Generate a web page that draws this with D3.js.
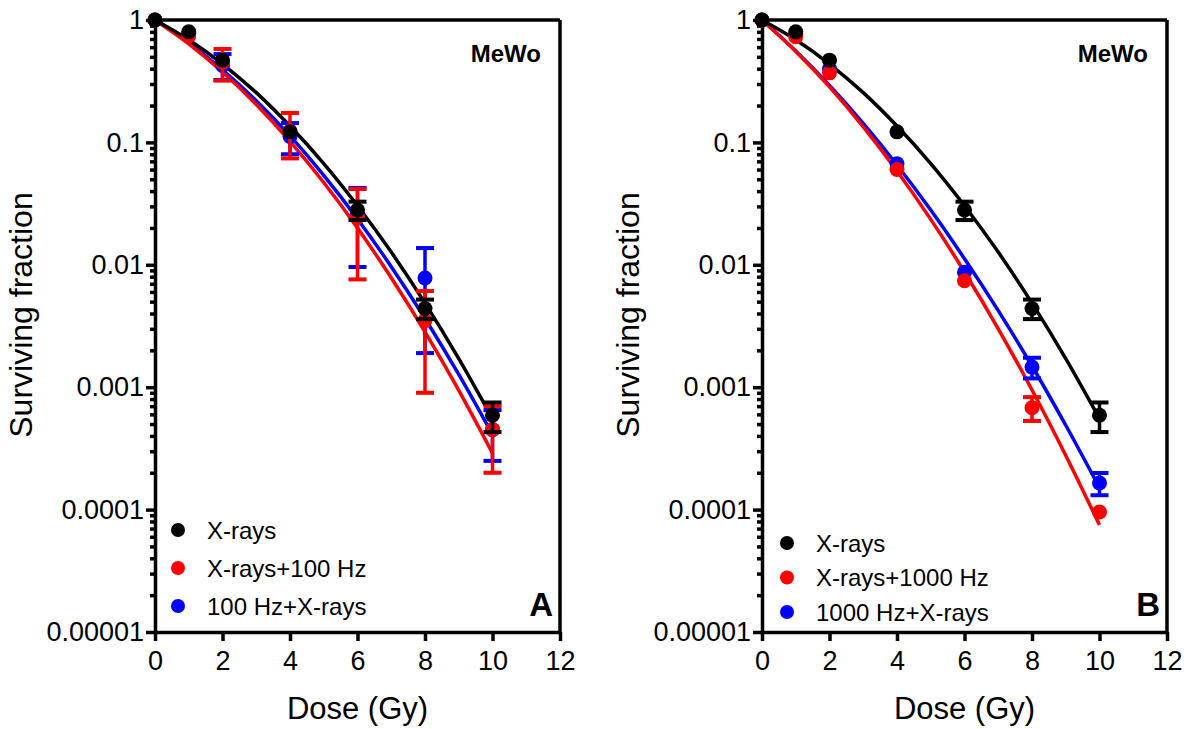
<!DOCTYPE html>
<html>
<head>
<meta charset="utf-8">
<script src="https://cdn.jsdelivr.net/npm/d3@7"></script>
<style>
  body { margin: 0; background: #fff; }
  svg { display: block; font-family: "Liberation Sans", Arial, sans-serif; }
  .axis path, .axis line { stroke: #000; stroke-width: 3.5; }
  .axis text { font-size: 27px; fill: #000; }
  .frame { stroke: #000; stroke-width: 3.5; }
  .fit { fill: none; stroke-width: 3.5; }
</style>
</head>
<body>
<div id="chart"></div>
<script>
// ---- data
const doses = [0, 1, 2, 4, 6, 8, 10];
const xraysSF = [1, 0.8, 0.47, 0.122, 0.028, 0.0044, 0.00059];
const xraysErr = [0, 0, 0, 0, 0.0048, 0.0008, 0.00016];

const xr100SF = [1, 0.74, 0.45, 0.124, 0.0246, 0.0035, 0.00045];
const xr100Err = [0, 0, 0.13, 0.05, 0.017, 0.0026, 0.00025];
const hz100SF = [1, 0.78, 0.425, 0.112, 0.026, 0.0078, 0.00045];
const hz100Err = [0, 0, 0.102, 0.032, 0.0164, 0.0059, 0.0002];

const xr1000SF = [1, 0.73, 0.37, 0.06, 0.0074, 0.00068, 0.0000955];
const xr1000Err = [0, 0, 0, 0, 0, 0.00015, 0];
const hz1000SF = [1, 0.77, 0.4, 0.067, 0.0087, 0.00146, 0.000165];
const hz1000Err = [0, 0, 0, 0, 0, 0.00028, 0.000034];

// fitted curves, read at each Gy
const curveDoses = [0, 1, 2, 3, 4, 5, 6, 7, 8, 9, 10];
const xraysFit = [1, 0.689, 0.437, 0.255, 0.136, 0.0672, 0.0304, 0.0127, 0.00486, 0.00171, 0.000553];
const xr100Fit = [1, 0.639, 0.376, 0.204, 0.102, 0.047, 0.02, 0.00783, 0.00283, 0.000941, 0.000289];
const hz100Fit = [1, 0.651, 0.392, 0.219, 0.113, 0.0537, 0.0237, 0.00965, 0.00364, 0.00127, 0.00041];
const xr1000Fit = [1, 0.554, 0.284, 0.134, 0.0584, 0.0235, 0.00874, 0.003, 0.000949, 0.000277, 0.0000749];
const hz1000Fit = [1, 0.558, 0.292, 0.143, 0.0654, 0.028, 0.0112, 0.00422, 0.00149, 0.000489, 0.000151];

const xTicks = [0, 2, 4, 6, 8, 10, 12];
const yTicks = [1, 0.1, 0.01, 0.001, 0.0001, 0.00001];
const yTickLabels = ["1", "0.1", "0.01", "0.001", "0.0001", "0.00001"];

const labelsA = ["X-rays", "X-rays+100 Hz", "100 Hz+X-rays"];
const labelsB = ["X-rays", "X-rays+1000 Hz", "1000 Hz+X-rays"];
const colors = ["#000000", "#ff0000", "#0000ff"];

// ---- size
const w = 1193;
const h = 729;
const pTop = 20;
const pBottom = 632;

const svg = d3.select("#chart").append("svg").attr("width", w).attr("height", h);

const yScale = d3.scaleLog().domain([0.00001, 1]).range([pBottom, pTop]);

// minor ticks 2..9 per decade
const minorTicks = [];
for (let e = -5; e < 0; e++) {
    for (let m = 2; m <= 9; m++) minorTicks.push(m * Math.pow(10, e));
}

function drawPanel(cfg) {
    const x = d3.scaleLinear().domain([0, 12]).range([cfg.left, cfg.right]);
    const g = svg.append("g");

    // frame (top + right)
    g.append("line").attr("class", "frame")
        .attr("x1", cfg.left).attr("x2", cfg.right)
        .attr("y1", pTop).attr("y2", pTop);
    g.append("line").attr("class", "frame")
        .attr("x1", cfg.right).attr("x2", cfg.right)
        .attr("y1", pTop).attr("y2", pBottom);

    // x axis
    g.append("g").attr("class", "axis")
        .attr("transform", `translate(0,${pBottom})`)
        .call(d3.axisBottom(x).tickValues(xTicks).tickSize(9).tickSizeOuter(0).tickPadding(10));

    // y axis minor
    g.append("g").attr("class", "axis")
        .attr("transform", `translate(${cfg.left},0)`)
        .call(d3.axisLeft(yScale).tickValues(minorTicks).tickSize(5).tickSizeOuter(0).tickFormat(""))
        .select(".domain").remove();
    // y axis major
    g.append("g").attr("class", "axis")
        .attr("transform", `translate(${cfg.left},0)`)
        .call(d3.axisLeft(yScale).tickValues(yTicks).tickSize(9).tickSizeOuter(0).tickPadding(2)
            .tickFormat((d, i) => yTickLabels[i]));

    // curves
    const line = d3.line()
        .x((d) => x(d[0]))
        .y((d) => yScale(d[1]))
        .curve(d3.curveMonotoneX);

    // draw blue first, then red, black on top
    const order = [2, 1, 0];
    order.forEach((k) => {
        const fit = cfg.fits[k];
        g.append("path").attr("class", "fit")
            .attr("d", line(curveDoses.map((d, i) => [d, fit[i]])))
            .style("stroke", colors[k]);
    });

    order.forEach((k) => {
        const sf = cfg.sf[k];
        const err = cfg.err[k];
        const pts = doses.map((d, i) => ({ dose: d, v: sf[i], e: err[i] }));
        const bars = pts.filter((p) => p.e > 0);
        const eg = g.append("g").style("stroke", colors[k]);
        eg.selectAll(".ev").data(bars).enter().append("line")
            .attr("x1", (p) => x(p.dose)).attr("x2", (p) => x(p.dose))
            .attr("y1", (p) => yScale(p.v + p.e)).attr("y2", (p) => yScale(Math.max(p.v - p.e, 1e-6)))
            .attr("stroke-width", 3.5);
        eg.selectAll(".et").data(bars).enter().append("line")
            .attr("x1", (p) => x(p.dose) - 9).attr("x2", (p) => x(p.dose) + 9)
            .attr("y1", (p) => yScale(p.v + p.e)).attr("y2", (p) => yScale(p.v + p.e))
            .attr("stroke-width", 4);
        eg.selectAll(".eb").data(bars).enter().append("line")
            .attr("x1", (p) => x(p.dose) - 9).attr("x2", (p) => x(p.dose) + 9)
            .attr("y1", (p) => yScale(p.v - p.e)).attr("y2", (p) => yScale(p.v - p.e))
            .attr("stroke-width", 4);
        g.append("g").selectAll("circle").data(pts).enter().append("circle")
            .attr("cx", (p) => x(p.dose))
            .attr("cy", (p) => yScale(p.v))
            .attr("r", 7.5)
            .style("fill", colors[k]);
    });

    // legend
    const leg = g.append("g").selectAll("g").data(cfg.labels).enter().append("g")
        .attr("transform", (d, i) => `translate(${cfg.left},${cfg.legendY + i * cfg.legendStep})`);
    leg.append("circle").attr("cx", cfg.legendDot).attr("r", 7).style("fill", (d, i) => colors[i]);
    leg.append("text").attr("x", cfg.legendText).attr("y", 8.5)
        .style("font-size", "24px").text((d) => d);

    // labels
    g.append("text").attr("x", cfg.right - 19).attr("y", 62)
        .attr("text-anchor", "end").style("font-size", "24px").style("font-weight", "bold")
        .text("MeWo");
    g.append("text").attr("x", cfg.right - 7).attr("y", 616)
        .attr("text-anchor", "end").style("font-size", "33px").style("font-weight", "bold")
        .text(cfg.letter);

    g.append("text")
        .attr("x", (cfg.left + cfg.right) / 2).attr("y", 719)
        .attr("text-anchor", "middle").style("font-size", "31px")
        .text("Dose (Gy)");

    g.append("text")
        .attr("transform", `translate(${cfg.left - 123},315) rotate(-90)`)
        .attr("text-anchor", "middle").style("font-size", "32px")
        .text("Surviving fraction");
}

drawPanel({
    left: 155, right: 560, letter: "A", labels: labelsA,
    sf: [xraysSF, xr100SF, hz100SF], err: [xraysErr, xr100Err, hz100Err],
    fits: [xraysFit, xr100Fit, hz100Fit],
    legendY: 530, legendStep: 38, legendDot: 23, legendText: 52
});
drawPanel({
    left: 762, right: 1167, letter: "B", labels: labelsB,
    sf: [xraysSF, xr1000SF, hz1000SF], err: [xraysErr, xr1000Err, hz1000Err],
    fits: [xraysFit, xr1000Fit, hz1000Fit],
    legendY: 543, legendStep: 34.5, legendDot: 25, legendText: 54
});
</script>
</body>
</html>
